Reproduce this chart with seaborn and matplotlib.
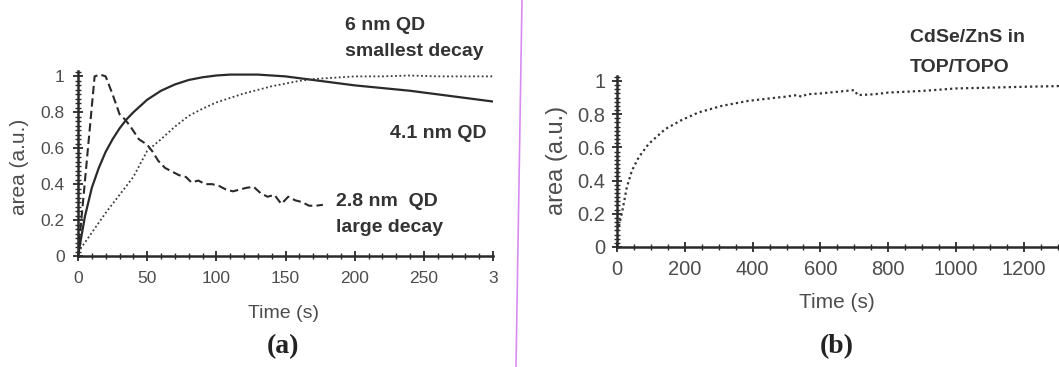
import matplotlib
matplotlib.use("Agg")
import matplotlib.pyplot as plt
from matplotlib.lines import Line2D
from matplotlib.ticker import MultipleLocator, FuncFormatter
import pandas as pd
import seaborn as sns

# --- panel (a): three QD sizes ---
t_41 = [0, 5, 10, 15, 20, 25, 30, 35, 40, 50, 60, 70, 80, 90, 100, 110, 120,
        130, 140, 150, 160, 170, 180, 190, 200, 220, 240, 260, 280, 300]
a_41 = [0, 0.22, 0.38, 0.49, 0.58, 0.65, 0.71, 0.76, 0.80, 0.87, 0.92, 0.955,
        0.98, 0.995, 1.005, 1.01, 1.01, 1.01, 1.005, 1.0, 0.99, 0.98, 0.97,
        0.96, 0.95, 0.935, 0.92, 0.90, 0.88, 0.86]

t_28 = [0, 12, 16, 20, 25, 30, 34, 38, 44, 50, 54, 58, 63, 68, 73, 78, 82, 87,
        92, 97, 102, 107, 112, 117, 122, 127, 132, 137, 142, 147, 152, 157,
        162, 167, 172, 177]
a_28 = [0, 1.0, 1.01, 1.0, 0.9, 0.79, 0.76, 0.72, 0.65, 0.62, 0.58, 0.53, 0.49,
        0.47, 0.45, 0.44, 0.41, 0.42, 0.40, 0.40, 0.39, 0.37, 0.36, 0.37, 0.38,
        0.385, 0.35, 0.33, 0.34, 0.29, 0.33, 0.31, 0.30, 0.28, 0.28, 0.285]

t_6 = [0, 10, 20, 30, 40, 50, 60, 70, 80, 90, 100, 110, 120, 130, 140, 150,
       160, 170, 180, 200, 220, 240, 260, 280, 300]
a_6 = [0.02, 0.13, 0.24, 0.34, 0.44, 0.585, 0.65, 0.72, 0.78, 0.82, 0.855,
       0.88, 0.905, 0.925, 0.945, 0.96, 0.975, 0.985, 0.99, 1.0, 1.0, 1.005,
       1.0, 1.0, 1.0]

xticks_a = [0, 50, 100, 150, 200, 250, 300]
xticklabels_a = ["0", "50", "100", "150", "200", "250", "3"]

# --- panel (b): CdSe/ZnS in TOP/TOPO ---
t_b = [0, 0, 5, 15, 29, 44, 64, 93, 142, 191, 240, 309, 387, 450, 495, 530,
       545, 560, 600, 650, 700, 710, 760, 800, 900, 1000, 1100, 1200, 1320]
a_b = [0, 0.1, 0.12, 0.21, 0.36, 0.46, 0.54, 0.62, 0.71, 0.765, 0.81, 0.85,
       0.88, 0.895, 0.905, 0.915, 0.905, 0.92, 0.925, 0.935, 0.945, 0.915,
       0.92, 0.93, 0.94, 0.955, 0.96, 0.965, 0.97]

W, H = 1059, 367
ink = "#2a2a2a"
gray = "#4d4d4d"

sns.set_style("ticks")
plt.rcParams["font.family"] = ["Liberation Sans", "DejaVu Sans"]

fig = plt.figure(figsize=(W / 100, H / 100), dpi=100)


def px_box(left, bottom_px, right, top_px):
    return [left / W, 1 - bottom_px / H, (right - left) / W, (bottom_px - top_px) / H]


def style_axis(ax, xmajor, xminor, tick_size, pad_x, pad_y):
    sns.despine(ax=ax)
    for s in ("left", "bottom"):
        ax.spines[s].set_linewidth(1.8)
        ax.spines[s].set_color(ink)
    ax.xaxis.set_major_locator(MultipleLocator(xmajor))
    ax.xaxis.set_minor_locator(MultipleLocator(xminor))
    ax.yaxis.set_major_locator(MultipleLocator(0.2))
    ax.yaxis.set_minor_locator(MultipleLocator(0.025))
    ax.yaxis.set_major_formatter(FuncFormatter(lambda v, p: f"{v:g}"))
    ax.tick_params(which="major", direction="inout", length=7, width=1.3,
                   color=ink, labelsize=tick_size, labelcolor=gray)
    ax.tick_params(which="minor", direction="inout", length=4, width=1.0, color=ink)
    ax.tick_params(axis="x", which="major", pad=pad_x)
    ax.tick_params(axis="y", which="major", pad=pad_y)


# panel (a)
ax1 = fig.add_axes(px_box(78, 256, 493, 71))
df41 = pd.DataFrame({"t": t_41, "a": a_41})
df28 = pd.DataFrame({"t": t_28, "a": a_28})
df6 = pd.DataFrame({"t": t_6, "a": a_6})
sns.lineplot(data=df41, x="t", y="a", ax=ax1, color=ink, lw=1.6,
             estimator=None, sort=False)
sns.lineplot(data=df28, x="t", y="a", ax=ax1, color=ink, lw=1.5,
             estimator=None, sort=False, linestyle=(0, (4, 2)))
sns.lineplot(data=df6, x="t", y="a", ax=ax1, color="#3a3a3a", lw=1.3,
             estimator=None, sort=False, linestyle=(0, (1, 1.4)))
ax1.set_xlim(0, 300)
ax1.set_ylim(0, 1.03)
style_axis(ax1, 50, 10, 12.5, 7, 6)
ax1.set_xticks(xticks_a)
ax1.set_xticklabels(xticklabels_a)
ax1.set_xlabel("")
ax1.set_ylabel("")

# panel (b)
ax2 = fig.add_axes(px_box(617, 247, 617 + 1320 * 0.339, 76))
dfb = pd.DataFrame({"t": t_b, "a": a_b})
sns.lineplot(data=dfb, x="t", y="a", ax=ax2, color="#333333", lw=1.6,
             estimator=None, sort=False, linestyle=(0, (1, 1.4)))
ax2.set_xlim(0, 1320)
ax2.set_ylim(0, 1.03)
style_axis(ax2, 200, 50, 14.5, 6, 5)
ax2.set_xlabel("")
ax2.set_ylabel("")


def ftext(x, y, s, **kw):
    fig.text(x / W, 1 - y / H, s, **kw)


# axis titles
ftext(283, 313, "Time (s)", ha="center", va="center", fontsize=14, color=gray)
ftext(20, 167, "area (a.u.)", ha="center", va="center", fontsize=15,
      rotation=90, color=gray)
ftext(837, 303, "Time (s)", ha="center", va="center", fontsize=15, color=gray)
ftext(557, 160, "area (a.u.)", ha="center", va="center", fontsize=17,
      rotation=90, color=gray)

# panel tags
ftext(283, 347, "(a)", ha="center", va="center", fontsize=20,
      fontweight="bold", family="Liberation Serif", color="#222222")
ftext(837, 347, "(b)", ha="center", va="center", fontsize=20,
      fontweight="bold", family="Liberation Serif", color="#222222")

# curve annotations
note = dict(ha="left", va="center", fontsize=14, fontweight="bold", color="#333333")
ftext(345, 25, "6 nm QD", **note)
ftext(345, 52, "smallest decay", **note)
ftext(390, 133, "4.1 nm QD", **note)
ftext(336, 202, "2.8 nm  QD", **note)
ftext(336, 228, "large decay", **note)
ftext(910, 37, "CdSe/ZnS in", **note)
ftext(910, 67, "TOP/TOPO", **note)

# divider between the two panels
fig.add_artist(Line2D([522 / W, 516 / W], [1, 0], color="#d98cf0", lw=1.2))

fig.savefig("out.png", dpi=100)
